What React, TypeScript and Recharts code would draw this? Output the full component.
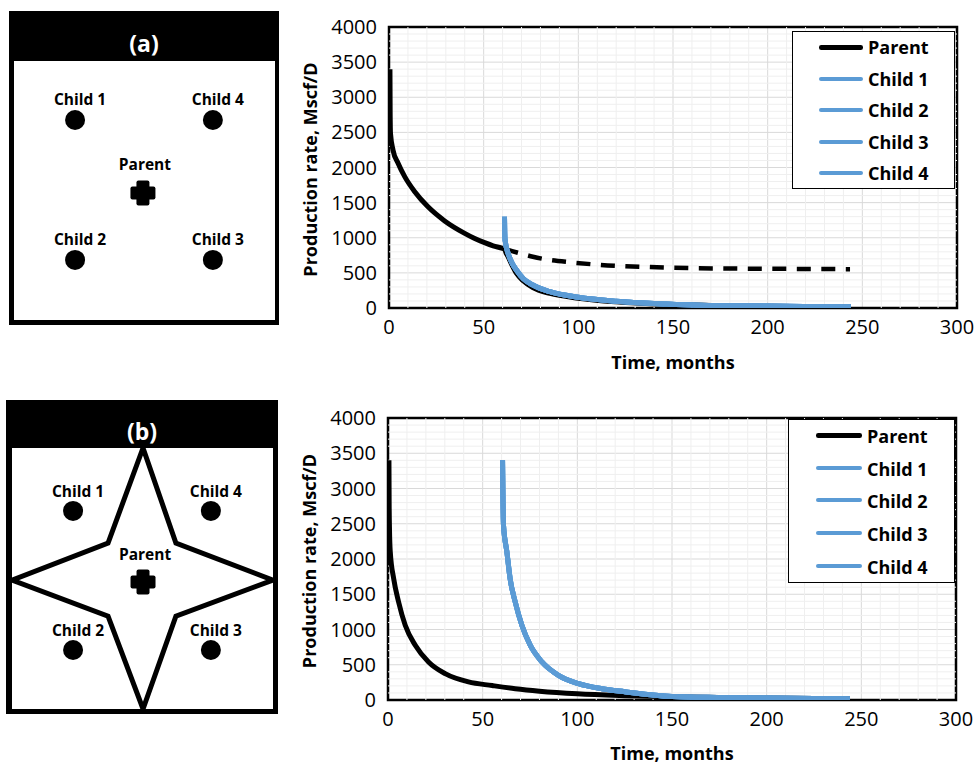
import React from 'react';
import {
  LineChart, Line, XAxis, YAxis, CartesianGrid, ReferenceLine, ReferenceArea,
  Legend, Label, ScatterChart, Scatter,
} from 'recharts';

const FONT = '"Open Sans", "Noto Sans", sans-serif';
const BLUE = '#5B9BD5';

// ---------- axis ticks ----------
const xTicks = [0, 50, 100, 150, 200, 250, 300];
const yTicks = [0, 500, 1000, 1500, 2000, 2500, 3000, 3500, 4000];
const xMinorTicks = [10, 20, 30, 40, 60, 70, 80, 90, 110, 120, 130, 140, 160, 170, 180, 190, 210, 220, 230, 240, 260, 270, 280, 290];
const yMinorTicks = [100, 200, 300, 400, 600, 700, 800, 900, 1100, 1200, 1300, 1400, 1600, 1700, 1800, 1900,
  2100, 2200, 2300, 2400, 2600, 2700, 2800, 2900, 3100, 3200, 3300, 3400, 3600, 3700, 3800, 3900];

// ---------- case (a) ----------
const parentATime = [0.5, 0.6, 0.8, 2.1, 4.8, 8.3, 13.6, 20.6, 29.4, 40, 45, 50.5, 55, 60, 61, 61.8, 62.9, 65, 67.3, 71, 76, 85, 100, 120, 146, 175, 200, 225, 244];
const parentARate = [3400, 2800, 2480, 2250, 2060, 1870, 1655, 1440, 1240, 1063, 993, 930, 885, 848, 838, 785, 730, 610, 495, 385, 290, 208, 140, 88, 52, 34, 25, 19, 15];
const parentNoChildATime = [61, 65, 69, 76, 83, 96, 111, 138, 159, 180, 210, 243.5];
const parentNoChildARate = [842, 810, 780, 730, 692, 650, 615, 582, 568, 562, 557, 553];
const childATime = [61, 61.1, 61.3, 62.9, 65, 67.3, 71, 76, 85, 100, 120, 146.5, 164, 200, 225, 244];
const childARate = [1300, 1100, 968, 780, 640, 541, 415, 327, 232, 152, 95, 57, 40, 28, 21, 17];

// ---------- case (b) ----------
const parentBTime = [0.5, 0.6, 0.8, 1.2, 3, 5.6, 9.1, 14.4, 21.4, 30.2, 42.5, 55, 67.2, 80, 100, 125, 150, 175, 200, 225, 244];
const parentBRate = [3400, 2800, 2400, 2100, 1720, 1390, 1060, 777, 540, 374, 256, 205, 160, 125, 88, 62, 45, 36, 28, 22, 18];
const childBTime = [60.5, 60.7, 61, 62.8, 64.5, 67.2, 70.7, 75.1, 81.3, 90, 100.6, 113, 125, 150, 175, 200, 225, 244];
const childBRate = [3400, 2900, 2480, 2100, 1720, 1390, 1060, 777, 540, 350, 232, 160, 118, 50, 36, 27, 20, 15];

const childNames = ['Child 1', 'Child 2', 'Child 3', 'Child 4'];
const legendOrder = ['Parent', 'Child 1', 'Child 2', 'Child 3', 'Child 4'];

// ---------- schematic wells (percent of inner box) ----------
const wellsA = [
  { name: 'Child 1', x: 23.4, y: 22.8 },
  { name: 'Child 4', x: 76.2, y: 22.8 },
  { name: 'Child 2', x: 23.4, y: 76.8 },
  { name: 'Child 3', x: 76.2, y: 76.8 },
];
const parentWellA = [{ name: 'Parent', x: 49.4, y: 51 }];
const wellsB = [
  { name: 'Child 1', x: 23.4, y: 24.1 },
  { name: 'Child 4', x: 76.2, y: 24.1 },
  { name: 'Child 2', x: 23.4, y: 77.4 },
  { name: 'Child 3', x: 76.2, y: 77.4 },
];
const parentWellB = [{ name: 'Parent', x: 50.2, y: 51.3 }];
const starB = [
  { x: 50.2, y: 0 }, { x: 62.8, y: 36.4 }, { x: 100, y: 50.6 }, { x: 62.8, y: 64.4 },
  { x: 50.2, y: 100 }, { x: 36.8, y: 64.4 }, { x: 0, y: 50.6 }, { x: 36.8, y: 36.4 }, { x: 50.2, y: 0 },
];

const toPoints = (ts: number[], qs: number[]) => ts.map((t, i) => ({ t, q: qs[i] }));

const xTitle = (dy: number) => (props: any) => {
  const vb = props.viewBox || {};
  return (
    <text x={vb.x + vb.width / 2} y={vb.y + dy} textAnchor="middle" dominantBaseline="central"
      style={{ fontFamily: FONT, fontWeight: 700, fontSize: 18, fill: '#000' }}>{props.value}</text>
  );
};
const yTitle = (props: any) => {
  const vb = props.viewBox || {};
  const x = vb.x + 1;
  const y = vb.y + vb.height / 2 + 2;
  return (
    <text x={x} y={y} transform={`rotate(-90, ${x}, ${y})`} textAnchor="middle" dominantBaseline="central"
      style={{ fontFamily: FONT, fontWeight: 700, fontSize: 18, fill: '#000' }}>{props.value}</text>
  );
};

const makeLegend = (rowH: number, lx0: number, lx1: number, tx: number) => (props: any) => {
  const items = (props.payload || [])
    .filter((p: any) => p.type !== 'none' && legendOrder.indexOf(p.value) >= 0)
    .slice()
    .sort((a: any, b: any) => legendOrder.indexOf(a.value) - legendOrder.indexOf(b.value));
  return (
    <div style={{ width: '100%', height: '100%', boxSizing: 'border-box', border: '1.5px solid #000', background: '#fff', position: 'relative' }}>
      {items.map((it: any, i: number) => {
        const h = it.value === 'Parent' ? 4.5 : 4;
        return (
          <div key={i} style={{ position: 'absolute', left: 0, top: i * rowH, height: rowH, width: '100%' }}>
            <div style={{ position: 'absolute', left: lx0, width: lx1 - lx0, top: Math.round(rowH / 2 - h / 2 - 1), height: h, background: it.color, borderRadius: h / 2 }} />
            <span style={{ position: 'absolute', left: tx, top: 0, lineHeight: `${rowH}px`, fontFamily: FONT, fontWeight: 700, fontSize: 18, color: '#000', whiteSpace: 'nowrap' }}>{it.value}</span>
          </div>
        );
      })}
    </div>
  );
};

type PanelProps = {
  top: number; height: number; margin: any; xTitleDy: number;
  parent: { t: number; q: number }[]; noChild?: { t: number; q: number }[]; child: { t: number; q: number }[];
  legendBox: { left: number; top: number; width: number; height: number; rowH: number; lx0: number; lx1: number; tx: number };
};

function RatePanel(p: PanelProps) {
  const lb = p.legendBox;
  return (
    <div style={{ position: 'absolute', left: 290, top: p.top }}>
      <LineChart width={686} height={p.height} margin={p.margin}>
        <CartesianGrid stroke="#d9d9d9" strokeWidth={1} />
        {xMinorTicks.map((v) => <ReferenceLine key={'mx' + v} x={v} stroke="#efefef" strokeWidth={1} />)}
        {yMinorTicks.map((v) => <ReferenceLine key={'my' + v} y={v} stroke="#efefef" strokeWidth={1} />)}
        <XAxis dataKey="t" type="number" domain={[0, 300]} ticks={xTicks} allowDataOverflow
          axisLine={false} tickLine={false} tickSize={0} tickMargin={12} height={30}
          tick={{ fill: '#000', fontSize: 20, fontFamily: FONT }}>
          <Label value="Time, months" content={xTitle(p.xTitleDy)} />
        </XAxis>
        <YAxis type="number" domain={[0, 4000]} ticks={yTicks} allowDataOverflow
          axisLine={false} tickLine={false} tickSize={0} tickMargin={12} width={80}
          tick={{ fill: '#000', fontSize: 20, fontFamily: FONT }}>
          <Label value="Production rate, Mscf/D" content={yTitle} />
        </YAxis>
        <Line data={p.parent} dataKey="q" name="Parent" type="monotone" stroke="#000" strokeWidth={5}
          strokeLinejoin="round" dot={false} activeDot={false} isAnimationActive={false} />
        {p.noChild && (
          <Line data={p.noChild} dataKey="q" name="Parent without children" type="monotone" stroke="#000" strokeWidth={4.5}
            strokeDasharray="14 10.5" legendType="none" dot={false} activeDot={false} isAnimationActive={false} />
        )}
        {childNames.map((n) => (
          <Line key={n} data={p.child} dataKey="q" name={n} type="monotone" stroke={BLUE} strokeWidth={5}
            strokeLinejoin="round" dot={false} activeDot={false} isAnimationActive={false} />
        ))}
        <ReferenceArea x1={0} x2={300} y1={0} y2={4000} fill="none" fillOpacity={0} stroke="#000" strokeWidth={2.5} ifOverflow="visible" />
        <Legend layout="vertical" align="center" verticalAlign="middle"
          wrapperStyle={{ left: lb.left, top: lb.top, width: lb.width, height: lb.height }}
          content={makeLegend(lb.rowH, lb.lx0, lb.lx1, lb.tx)} />
      </LineChart>
    </div>
  );
}

const WellShape = (labelDy: number, labelDx: number, kind: 'circle' | 'cross') => (props: any) => {
  const { cx, cy, payload } = props;
  return (
    <g>
      {kind === 'circle' ? (
        <circle cx={cx} cy={cy} r={10} fill="#000" />
      ) : (
        <g fill="#000">
          <rect x={cx - 12.5} y={cy - 6.5} width={25} height={13} rx={2} />
          <rect x={cx - 6.5} y={cy - 12.5} width={13} height={25} rx={2} />
        </g>
      )}
      <text x={cx + labelDx} y={cy - labelDy} textAnchor="middle" dominantBaseline="central"
        style={{ fontFamily: FONT, fontWeight: 700, fontSize: 15.5, fill: '#000' }}>{payload.name}</text>
    </g>
  );
};

type DiagramProps = {
  left: number; top: number; width: number; height: number; headerH: number; title: string; titleY: number;
  inner: { l: number; t: number; w: number; h: number };
  wells: any[]; parent: any[]; star?: any[]; childDy: number; parentDy: number;
};

function Diagram(d: DiagramProps) {
  return (
    <div style={{ position: 'absolute', left: d.left, top: d.top, width: d.width, height: d.height, background: '#000' }}>
      <div style={{ position: 'absolute', left: 0, width: d.width, top: d.titleY - 15, height: 30, lineHeight: '30px', textAlign: 'center', color: '#fff', fontFamily: FONT, fontWeight: 700, fontSize: 23 }}>{d.title}</div>
      <div style={{ position: 'absolute', left: d.inner.l, top: d.inner.t, width: d.inner.w, height: d.inner.h, background: '#fff' }}>
        <ScatterChart width={d.inner.w} height={d.inner.h} margin={{ top: 0, right: 0, bottom: 0, left: 0 }}>
          <XAxis type="number" dataKey="x" domain={[0, 100]} hide />
          <YAxis type="number" dataKey="y" domain={[0, 100]} reversed hide />
          {d.star && (
            <Scatter data={d.star} line={{ stroke: '#000', strokeWidth: 5, strokeLinejoin: 'miter' }} shape={() => <g />} isAnimationActive={false} />
          )}
          <Scatter data={d.wells} shape={WellShape(d.childDy, 5, 'circle')} isAnimationActive={false} />
          <Scatter data={d.parent} shape={WellShape(d.parentDy, 2, 'cross')} isAnimationActive={false} />
        </ScatterChart>
      </div>
    </div>
  );
}

export default function App() {
  const childA = toPoints(childATime, childARate);
  const childB = toPoints(childBTime, childBRate);
  return (
    <div style={{ position: 'absolute', left: 0, top: 0, width: 976, height: 765, background: '#fff', fontFamily: FONT }}>
      <Diagram left={9} top={11} width={270} height={314} headerH={50} title="(a)" titleY={31.5}
        inner={{ l: 5, t: 50, w: 261, h: 259 }} wells={wellsA} parent={parentWellA} childDy={21} parentDy={29} />
      <Diagram left={6} top={400} width={272} height={314} headerH={48} title="(b)" titleY={31}
        inner={{ l: 6, t: 48, w: 261, h: 261 }} wells={wellsB} parent={parentWellB} star={starB} childDy={20} parentDy={28} />
      <RatePanel top={0} height={380} margin={{ top: 27, right: 19, bottom: 42, left: 19 }} xTitleDy={54}
        parent={toPoints(parentATime, parentARate)} noChild={toPoints(parentNoChildATime, parentNoChildARate)} child={childA}
        legendBox={{ left: 502, top: 31, width: 163, height: 158, rowH: 31.5, lx0: 26, lx1: 70, tx: 75 }} />
      <RatePanel top={390} height={375} margin={{ top: 28, right: 20, bottom: 35, left: 18 }} xTitleDy={53}
        parent={toPoints(parentBTime, parentBRate)} child={childB}
        legendBox={{ left: 498, top: 29, width: 167, height: 164, rowH: 32.7, lx0: 27, lx1: 73, tx: 78 }} />
    </div>
  );
}
